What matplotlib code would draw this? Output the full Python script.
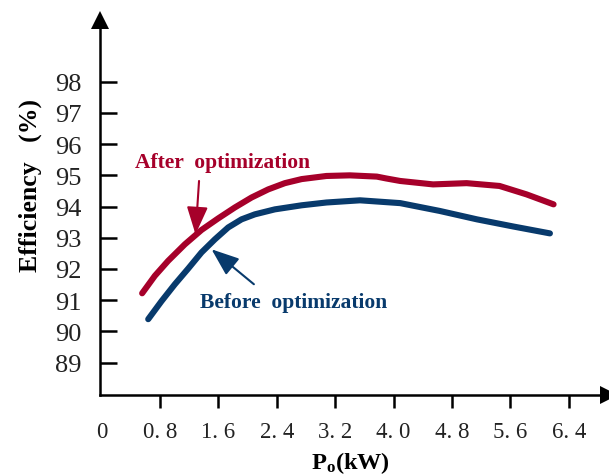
import matplotlib
matplotlib.use("Agg")
import matplotlib.pyplot as plt
from matplotlib.patches import FancyArrowPatch

# Output power (kW) and efficiency (%)
after_power = [0.557, 0.731, 0.913, 1.142, 1.370, 1.598, 1.826, 2.055, 2.283, 2.511, 2.740,
               3.08, 3.40, 3.77, 3.90, 4.09, 4.54, 5.00, 5.45, 5.82, 6.19]
after_eff = [91.22, 91.78, 92.26, 92.79, 93.25, 93.62, 93.97, 94.29, 94.55, 94.75, 94.88,
             94.98, 95.00, 94.96, 94.90, 94.82, 94.71, 94.75, 94.66, 94.39, 94.07]

before_power = [0.64, 0.823, 1.005, 1.187, 1.370, 1.553, 1.735, 1.918, 2.100, 2.374, 2.740,
                3.08, 3.54, 4.09, 4.63, 5.14, 5.64, 6.14]
before_eff = [90.39, 90.97, 91.51, 92.01, 92.53, 92.95, 93.33, 93.59, 93.75, 93.91, 94.04,
              94.13, 94.20, 94.11, 93.86, 93.59, 93.36, 93.14]

x_ticks = [0, 0.8, 1.6, 2.4, 3.2, 4.0, 4.8, 5.6, 6.4]
y_ticks = [89, 90, 91, 92, 93, 94, 95, 96, 97, 98]

after_label = "After  optimization"
before_label = "Before  optimization"
x_label = r"$\mathbf{P_o}$" + "(kW)"
y_label = "Efficiency   (%)"

RED = "#A6002A"
BLUE = "#083A6C"

plt.rcParams["font.family"] = ["Liberation Serif", "DejaVu Serif"]
plt.rcParams["mathtext.fontset"] = "custom"
plt.rcParams["mathtext.rm"] = "Liberation Serif"
plt.rcParams["mathtext.bf"] = "Liberation Serif:bold"

W, H = 609, 477
fig = plt.figure(figsize=(W / 100, H / 100), dpi=100)

# axes box in pixel terms: left 100, right 600, bottom 396, top 30
left_px, right_px, bottom_px, top_px = 100, 600, 396, 30
ax = fig.add_axes([left_px / W, 1 - bottom_px / H,
                   (right_px - left_px) / W, (bottom_px - top_px) / H])

ax.set_xlim(-0.02, -0.02 + (right_px - left_px) / 73.04)
ax.set_ylim(87.96, 87.96 + (bottom_px - top_px) / 31.2)

ax.plot(after_power, after_eff, color=RED, lw=4.4, solid_capstyle="round", solid_joinstyle="round")
ax.plot(before_power, before_eff, color=BLUE, lw=4.4, solid_capstyle="round", solid_joinstyle="round")

for s in ("top", "right"):
    ax.spines[s].set_visible(False)
for s in ("left", "bottom"):
    ax.spines[s].set_linewidth(1.8)
    ax.spines[s].set_color("black")

# arrow heads at the ends of both axes
ax.plot([0], [1 + 8.5 / (bottom_px - top_px)], marker="^", ms=12.5, color="black",
        transform=ax.transAxes, clip_on=False, mew=0)
ax.plot([1 + 8.5 / (right_px - left_px)], [0], marker=">", ms=12.5, color="black",
        transform=ax.transAxes, clip_on=False, mew=0)

ax.set_xticks(x_ticks)
ax.set_xticklabels(["0" if v == 0 else f"{v:.1f}".replace(".", ". ") for v in x_ticks],
                   fontsize=16.5, color="#222222")
ax.set_yticks(y_ticks)
ax.set_yticklabels([str(v) for v in y_ticks], fontsize=19, color="#222222")
ax.tick_params(axis="x", direction="out", length=9.5, width=1.8, pad=9.5)
ax.tick_params(axis="y", direction="in", length=12, width=1.8, pad=13)
ax.xaxis.get_major_ticks()[0].tick1line.set_visible(False)

ax.set_xlabel(x_label, fontsize=17.5, fontweight="bold", labelpad=5)
ax.set_ylabel(y_label, fontsize=18.5, fontweight="bold", labelpad=10, y=0.574)

ax.text(0.457, 95.43, after_label, color=RED, fontsize=15.5, fontweight="bold",
        ha="left", va="center")
ax.text(1.347, 90.93, before_label, color=BLUE, fontsize=15.5, fontweight="bold",
        ha="left", va="center")

# pointers from the labels to their curves
for tail, tip, col in [((1.336, 94.82), (1.288, 93.11), RED),
                       ((2.087, 91.51), (1.507, 92.63), BLUE)]:
    ax.add_patch(FancyArrowPatch(tail, tip, arrowstyle="-|>,head_length=17,head_width=6.5",
                                 mutation_scale=1, color=col, lw=1.5,
                                 shrinkA=0, shrinkB=0, zorder=5))

fig.savefig("out.png", dpi=100)
